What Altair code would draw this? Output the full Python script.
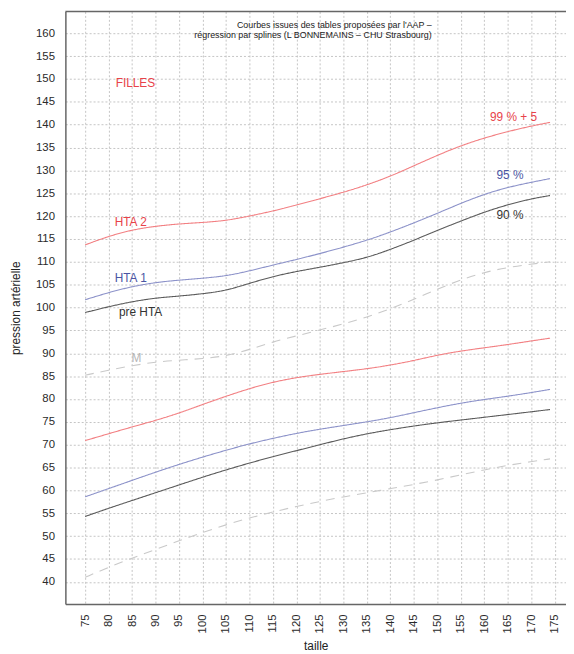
import altair as alt
import pandas as pd

# ---------------- data ----------------
taille = [75, 80, 85, 90, 95, 100, 105, 110, 115, 120, 125, 130, 135,
          140, 145, 150, 155, 160, 165, 170, 174]

# systolic (upper bundle)
sys_99p5 = [113.7, 115.6, 117.0, 117.8, 118.3, 118.6, 119.0, 120.0, 121.1, 122.4,
            123.8, 125.2, 126.8, 128.7, 131.0, 133.3, 135.4, 137.1, 138.5, 139.7, 140.5]
sys_95 = [101.7, 103.3, 104.6, 105.5, 106.0, 106.4, 106.9, 108.0, 109.3, 110.5,
          111.8, 113.2, 114.7, 116.5, 118.5, 120.6, 122.8, 124.8, 126.3, 127.4, 128.2]
sys_90 = [98.9, 100.2, 101.3, 102.1, 102.5, 103.0, 103.7, 105.3, 106.8, 107.9,
          108.8, 109.8, 110.9, 112.7, 114.7, 116.9, 118.9, 120.9, 122.5, 123.8, 124.5]
sys_m = [85.2, 86.3, 87.3, 88.1, 88.5, 88.8, 89.4, 90.8, 92.5, 93.8,
         95.1, 96.4, 97.9, 99.7, 101.8, 104.0, 106.1, 107.7, 108.8, 109.5, 110.0]

# diastolic (lower bundle)
dia_99p5 = [70.9, 72.4, 73.9, 75.3, 76.9, 78.8, 80.6, 82.3, 83.7, 84.7,
            85.4, 86.0, 86.6, 87.4, 88.4, 89.6, 90.5, 91.2, 91.9, 92.7, 93.3]
dia_95 = [58.6, 60.4, 62.2, 64.0, 65.7, 67.3, 68.8, 70.2, 71.4, 72.5,
          73.4, 74.2, 75.0, 75.9, 77.0, 78.1, 79.1, 79.9, 80.6, 81.4, 82.1]
dia_90 = [54.3, 56.1, 57.8, 59.5, 61.2, 62.9, 64.5, 66.0, 67.4, 68.7,
          70.0, 71.3, 72.4, 73.3, 74.1, 74.8, 75.4, 76.0, 76.6, 77.2, 77.7]
dia_m = [41.0, 43.2, 45.2, 47.1, 49.0, 50.8, 52.5, 54.0, 55.3, 56.5,
         57.6, 58.6, 59.5, 60.4, 61.3, 62.3, 63.4, 64.5, 65.5, 66.3, 66.9]

series_names = ["sys_99p5", "sys_95", "sys_90", "sys_m",
                "dia_99p5", "dia_95", "dia_90", "dia_m"]
series_values = [sys_99p5, sys_95, sys_90, sys_m,
                 dia_99p5, dia_95, dia_90, dia_m]
series_kind = ["99", "95", "90", "M", "99", "95", "90", "M"]

kinds = ["99", "95", "90", "M"]
line_colors = ["#f27f82", "#8c92c9", "#5a5a5a", "#c9c9c9"]

# annotation labels
label_text = ["FILLES", "HTA 2", "HTA 1", "pre HTA", "M", "99 % + 5", "95 %", "90 %"]
label_x = [81.5, 81.3, 81.3, 82.2, 84.9, 161.2, 162.6, 162.6]
label_y = [149.2, 118.8, 106.5, 99.1, 89.0, 141.6, 129.0, 120.2]
label_color = ["#e8434a", "#e8434a", "#4a55a3", "#333333", "#b5b5b5",
               "#e8434a", "#4a55a3", "#333333"]

title_lines = ["Courbes issues des tables proposées par l'AAP –",
               "régression par splines (L BONNEMAINS – CHU Strasbourg)"]
title_x = [148.8, 148.8]
title_y = [161.8, 159.5]

x_ticks = list(range(75, 180, 5))
y_ticks = list(range(40, 165, 5))

X_DOMAIN = [70.8, 177.4]
Y_DOMAIN = [35.15, 164.76]
W, H = 506, 599

# ---------------- build tables ----------------
rows = []
for name, vals, kind in zip(series_names, series_values, series_kind):
    for t, v in zip(taille, vals):
        rows.append({"taille": t, "pa": v, "serie": name, "kind": kind})
lines_df = pd.DataFrame(rows)

labels_df = pd.DataFrame({"txt": label_text, "x": label_x, "y": label_y, "col": label_color})
title_df = pd.DataFrame({"txt": title_lines, "x": title_x, "y": title_y})

xscale = alt.Scale(domain=X_DOMAIN, nice=False, zero=False)
yscale = alt.Scale(domain=Y_DOMAIN, nice=False, zero=False)

x_axis = alt.Axis(values=x_ticks, title="taille", labelAngle=270,
                  labelPadding=10, tickSize=0, titleY=46,
                  labelOverlap=False, labelFlush=False, labelBound=False,
                  titleBaseline="alphabetic", format="d")
y_axis = alt.Axis(values=y_ticks, title="pression artérielle",
                  labelPadding=11, tickSize=0, titleX=-46,
                  labelOverlap=False, labelFlush=False, labelBound=False,
                  titleBaseline="alphabetic", format="d")

lines = alt.Chart(lines_df).mark_line(strokeWidth=1.1, interpolate="basis").encode(
    x=alt.X("taille:Q", scale=xscale, axis=x_axis),
    y=alt.Y("pa:Q", scale=yscale, axis=y_axis),
    color=alt.Color("kind:N", scale=alt.Scale(domain=kinds, range=line_colors), legend=None),
    strokeDash=alt.StrokeDash("kind:N",
                              scale=alt.Scale(domain=kinds,
                                              range=[[1, 0], [1, 0], [1, 0], [9, 7]]),
                              legend=None),
    detail="serie:N",
)

labels = alt.Chart(labels_df).mark_text(
    align="left", baseline="middle", fontSize=12, font="Liberation Sans"
).encode(
    x=alt.X("x:Q", scale=xscale, axis=x_axis),
    y=alt.Y("y:Q", scale=yscale, axis=y_axis),
    text="txt:N",
    color=alt.Color("col:N", scale=None),
)

title = alt.Chart(title_df).mark_text(
    align="right", baseline="middle", fontSize=9, font="Liberation Sans", color="#222222"
).encode(
    x=alt.X("x:Q", scale=xscale, axis=x_axis),
    y=alt.Y("y:Q", scale=yscale, axis=y_axis),
    text="txt:N",
)

top_border = alt.Chart(pd.DataFrame({"a": [0]})).mark_rule(
    color="#666666", strokeWidth=1.5
).encode(x=alt.value(0), x2=alt.value(W), y=alt.value(0))

chart = alt.layer(lines, labels, title, top_border).properties(
    width=W, height=H,
    autosize=alt.AutoSizeParams(type="none"),
    padding={"left": 58, "top": 0, "right": 0, "bottom": 47},
).configure_view(stroke=None).configure_axis(
    labelFont="Liberation Sans", titleFont="Liberation Sans",
    labelColor="#2a2a2a", titleColor="#222222",
    labelFontSize=11.5, titleFontSize=12, titleFontWeight="normal",
    labelOverlap=False,
    domainColor="#666666", domainWidth=1.5,
    gridColor="#c4c4c4", gridDash=[2, 2], gridWidth=1,
)

chart.save("out.html", embed_options={"renderer": "svg", "actions": False})
